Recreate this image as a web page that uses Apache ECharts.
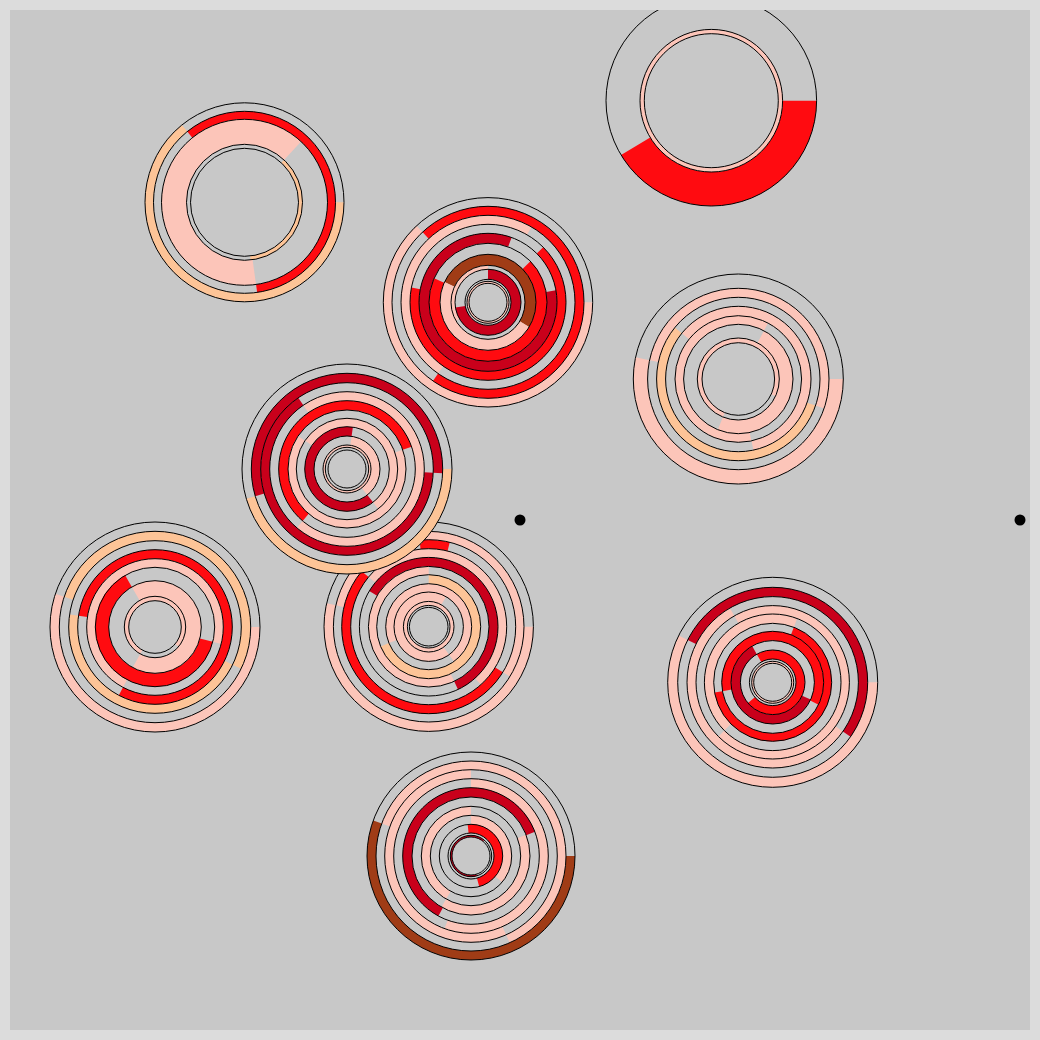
<!DOCTYPE html>
<html>
<head>
<meta charset="utf-8">
<script src="https://cdn.jsdelivr.net/npm/echarts@6/dist/echarts.min.js"></script>
<style>
html, body { margin: 0; padding: 0; background: #dcdcdc; }
#box { width: 1040px; height: 1040px; }
</style>
</head>
<body>
<div id="box"></div>
<script>
// node centres in axis units (0..1000), order matters: later nodes sit on top
var nodeX = [224.5, 691.3, 468, 718.3, 408.7, 327, 135, 752.7, 451];
var nodeY = [182.3, 80.7, 282.3, 359, 606.7, 449, 607, 662.3, 836];

// the two loose points
var dotX = [500, 1000];
var dotY = [500, 500];

// ring boundaries of every node, outside -> hole
var ringEdges = [
    [99.5, 91, 83, 58, 54],
    [105.3, 71.3, 67],
    [104.7, 96, 87, 78, 69, 59, 48, 37, 33, 23, 21, 19],
    [105, 90.7, 81.7, 72.7, 63.3, 54.7, 41, 36.3],
    [104.7, 95.3, 87, 78, 69.3, 60.3, 52, 43, 34.7, 25.3, 21.3, 19.3],
    [105, 95.7, 86.3, 77.3, 68.3, 59, 50.7, 42.3, 33, 24, 21.7, 19],
    [105, 95.7, 86.3, 77.3, 68.3, 59.7, 46.3, 30.7, 26.3],
    [105, 95, 85.7, 76.7, 68.3, 59, 51, 41.7, 32.3, 23.3, 21, 19],
    [104, 95, 86.3, 77.3, 68.3, 59, 49.7, 40.7, 31.7, 23, 20.7, 19]
];

// arcs: [ring, from deg, to deg, colour] ; 0deg = east, clockwise
var ringArcs = [
    [[0, 0, 231, 'O'], [1, 231, 442, 'R'], [2, 82, 313, 'P'], [3, 313, 444, 'O']],
    [[0, 0, 149, 'R'], [1, 0, 360, 'P']],
    [[0, 0, 227, 'P'], [1, 227, 485, 'R'], [2, 125, 300, 'P'], [3, 315, 551, 'R'], [4, 350, 650, 'D'],
     [5, 316, 564, 'R'], [6, 31, 205, 'P'], [6, 205, 391, 'B'], [7, 150, 270, 'P'], [8, 270, 531, 'D'], [10, 0, 360, 'P']],
    [[0, 0, 192, 'P'], [1, 192, 379, 'P'], [2, 19, 219, 'O'], [3, 219, 438, 'P'], [4, 78, 298, 'P'],
     [5, 298, 472, 'P'], [6, 112, 385, 'P']],
    [[0, 0, 193, 'P'], [1, 193, 391.5, 'P'], [2, 31.5, 219.6, 'R'], [2, 264, 284, 'R'], [3, 219.6, 408, 'P'],
     [4, 211, 425, 'D'], [5, 65, 270, 'P'], [6, 270, 517.6, 'O'], [7, 157.6, 413.9, 'P'], [8, 53.9, 300, 'P'], [9, 0, 360, 'P']],
    [[0, 0, 163.5, 'O'], [1, 163.5, 362.5, 'D'], [2, 2.5, 235.6, 'D'], [3, 235.6, 490.5, 'P'], [4, 130.5, 341, 'R'],
     [5, 341, 574, 'P'], [6, 214, 412, 'P'], [7, 52, 278, 'D'], [8, 278, 412, 'P'], [9, 0, 360, 'P']],
    [[0, 0, 198.4, 'P'], [1, 198.4, 385.9, 'O'], [2, 25.9, 188.4, 'O'], [3, 188.4, 477.9, 'R'], [4, 117.9, 374.4, 'P'],
     [5, 14.4, 240, 'R'], [6, 240, 478.8, 'P'], [7, 118.8, 400, 'P']],
    [[0, 0, 206.5, 'P'], [1, 206.5, 395, 'D'], [2, 35, 240, 'P'], [3, 240, 495, 'P'], [4, 135, 291, 'P'],
     [5, 291, 530, 'R'], [6, 170, 386, 'R'], [7, 24.5, 240.5, 'D'], [8, 240.5, 500, 'R'], [10, 0, 360, 'P']],
    [[0, 0, 200, 'B'], [1, 200, 426, 'P'], [2, 66, 270, 'P'], [3, 270, 470, 'P'], [4, 118.5, 339.3, 'D'],
     [5, 339, 480, 'P'], [6, 120, 270, 'P'], [7, 270, 400, 'P'], [8, 264, 435, 'R'], [10, 73.6, 309, 'D']]
];

var colors = { P: '#fcc5b9', O: '#fdc497', R: '#ff0b10', D: '#c9001b', B: '#a03c16' };
var bg = '#c8c8c8';
var clear = 'rgba(0,0,0,0)';

// arcs of one ring -> list of {from,to,col} around the whole circle, no seam inside a colour
function ringParts(arcs, ring) {
    var segs = [];
    arcs.forEach(function (a) {
        if (a[0] !== ring) return;
        var len = a[2] - a[1];
        if (len >= 360) { segs.push([0, 360, a[3]]); return; }
        var s = a[1] % 360, e = s + len;
        if (e > 360) {
            segs.push([s, 360, a[3]]);
            segs.push([0, e - 360, a[3]]);
        } else {
            segs.push([s, e, a[3]]);
        }
    });
    segs.sort(function (p, q) { return p[0] - q[0]; });
    var parts = [], pos = 0;
    function add(from, to, col) {
        var last = parts[parts.length - 1];
        if (last && last.col === col) last.to = to;
        else parts.push({ from: from, to: to, col: col });
    }
    segs.forEach(function (g) {
        if (g[0] > pos) add(pos, g[0], null);
        var st = Math.max(g[0], pos);
        if (g[1] > st) add(st, g[1], g[2]);
        pos = Math.max(pos, g[1]);
    });
    if (pos < 360) add(pos, 360, null);
    if (parts.length > 1 && parts[0].col === parts[parts.length - 1].col) {
        var tail = parts.pop();
        parts[0].from = tail.from - 360;
    }
    // start the pie at a gap when there is one
    for (var i = 0; i < parts.length; i++) {
        if (parts[i].col === null) { parts = parts.slice(i).concat(parts.slice(0, i)); break; }
    }
    return parts;
}

function pie(center, r0, r1, data, z, start) {
    return {
        type: 'pie',
        center: center,
        radius: [r0, r1],
        startAngle: start || 0,
        clockwise: true,
        silent: true,
        animation: false,
        avoidLabelOverlap: false,
        label: { show: false },
        labelLine: { show: false },
        emphasis: { disabled: true },
        z: z,
        data: data
    };
}

var myChart = echarts.init(document.getElementById('box'));
var option = {
    backgroundColor: bg,
    animation: false,
    grid: { left: 20, top: 20, width: 1000, height: 1000 },
    xAxis: { type: 'value', min: 0, max: 1000, show: false },
    yAxis: { type: 'value', min: 0, max: 1000, inverse: true, show: false },
    graphic: [{
        type: 'rect',
        z: 100,
        silent: true,
        shape: { x: 0, y: 0, width: 1040, height: 1040 },
        style: { fill: 'none', stroke: '#dcdcdc', lineWidth: 20 }
    }],
    series: []
};
myChart.setOption(option);

var series = [];
nodeX.forEach(function (x, k) {
    var c = myChart.convertToPixel({ gridIndex: 0 }, [x, nodeY[k]]);
    var edges = ringEdges[k];
    var base = 10 + k * 3;
    series.push(pie(c, 0, edges[0], [{ value: 1, itemStyle: { color: bg } }], base));
    for (var i = 0; i < edges.length - 1; i++) {
        var parts = ringParts(ringArcs[k], i);
        if (parts.length === 1 && parts[0].col === null) continue;
        var data = parts.map(function (p) {
            return { value: p.to - p.from, itemStyle: { color: p.col ? colors[p.col] : clear } };
        });
        series.push(pie(c, edges[i + 1], edges[i], data, base + 1, -parts[0].from));
    }
    edges.forEach(function (r) {
        series.push(pie(c, 0, r, [{ value: 1, itemStyle: { color: clear, borderColor: '#000', borderWidth: 1 } }], base + 2));
    });
});
series.push({
    type: 'scatter',
    silent: true,
    z: 60,
    symbolSize: 11,
    itemStyle: { color: '#000', opacity: 1 },
    data: dotX.map(function (x, i) { return [x, dotY[i]]; })
});

myChart.setOption({ series: series });
</script>
</body>
</html>
